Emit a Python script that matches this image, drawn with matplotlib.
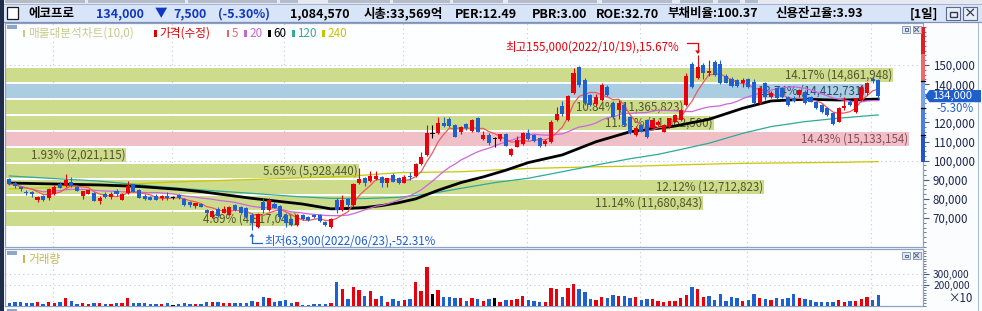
import numpy as np
import pandas as pd
import matplotlib
matplotlib.use("Agg")
import matplotlib.pyplot as plt
from matplotlib.patches import Rectangle, Polygon
from matplotlib.lines import Line2D

# ---------------- data (prices in thousand won) ----------------
open_k = [90.4,88.1,86.2,83.8,83.4,79.3,81.3,80.3,82.7,87.6,
86.8,89.0,86.2,81.5,82.7,83.1,78.9,82.4,81.0,84.1,
79.6,83.1,87.6,84.7,81.7,81.2,81.7,80.3,81.2,80.8,
82.0,79.8,78.4,76.3,77.3,74.2,70.3,74.5,72.8,71.7,
76.8,75.6,75.0,71.6,65.1,78.5,74.2,77.5,76.3,71.6,
69.3,66.4,71.6,70.3,71.6,71.6,68.1,65.5,79.4,74.2,
79.7,76.8,88.1,90.7,89.5,90.4,91.6,88.5,92.5,90.7,
88.5,92.0,92.0,98.2,103.0,114.3,114.6,119.5,121.6,118.6,
115.2,119.0,115.7,122.1,111.3,113.4,111.7,111.3,113.7,103.0,
107.3,108.5,114.6,113.4,111.7,108.5,109.6,121.2,128.5,121.2,
135.2,149.1,142.2,134.3,129.5,131.7,138.7,130.0,126.5,129.1,
123.0,113.4,118.6,121.2,116.9,118.6,115.2,117.8,120.4,121.2,
129.1,150.4,143.4,150.0,145.7,151.8,150.5,144.3,142.5,142.2,
140.4,142.5,141.3,130.0,140.4,133.5,137.8,137.8,133.5,133.0,
134.3,136.1,133.5,130.9,129.1,127.4,124.7,120.4,127.4,130.9,
125.6,131.7,135.2,142.5,142.2]

high_k = [90.8,89.5,86.2,84.6,84.1,81.7,82.0,85.9,87.3,89.0,
93.0,91.5,86.9,84.1,84.7,83.5,81.7,83.4,83.8,85.2,
83.1,89.4,88.0,85.0,82.4,81.7,82.4,82.0,83.4,81.7,
82.4,80.3,79.1,78.0,77.7,74.9,74.2,75.9,76.3,76.3,
77.3,76.3,75.9,72.4,72.4,80.3,80.3,78.5,77.0,72.5,
70.0,72.0,72.0,71.0,72.1,72.0,68.5,70.0,80.3,82.0,
80.5,88.5,96.0,91.6,94.6,94.6,92.1,90.9,93.4,91.2,
92.5,94.2,99.0,104.7,118.6,118.6,123.0,122.6,122.6,119.0,
118.1,119.5,121.6,122.6,115.7,114.6,112.5,113.9,114.3,106.5,
112.9,115.1,116.5,114.0,112.2,111.5,121.2,128.2,131.0,134.5,
148.6,149.7,143.0,135.0,135.0,140.4,139.5,131.0,131.5,130.0,
123.5,118.0,119.0,121.8,122.0,121.0,119.0,122.5,124.5,127.0,
145.7,151.5,155.0,150.9,152.6,152.6,152.6,145.3,143.5,142.8,
143.0,143.3,142.5,138.5,141.3,136.5,138.5,138.3,134.0,134.0,
137.5,137.0,134.0,131.3,129.6,128.0,125.6,128.0,133.5,131.7,
133.0,139.5,141.0,143.5,142.6]

low_k = [87.3,85.9,84.1,82.0,81.2,78.6,78.9,79.6,82.0,85.5,
86.4,86.2,84.1,80.1,82.5,78.9,77.3,80.3,80.1,81.7,
79.3,82.4,83.4,80.3,79.3,79.3,79.3,79.6,79.6,80.0,
80.0,76.3,75.9,75.2,75.6,72.1,69.8,70.3,72.4,71.4,
73.5,72.4,70.0,63.9,64.6,72.4,73.8,75.0,69.5,65.5,
66.0,66.0,68.8,68.5,70.0,68.0,66.0,65.0,72.5,73.5,
76.0,76.0,87.8,86.7,89.0,89.9,86.0,86.4,88.8,87.6,
88.1,89.9,91.5,97.7,102.4,111.7,114.0,117.4,117.4,112.5,
113.9,116.0,115.2,114.8,111.0,108.2,107.0,110.2,107.5,102.4,
107.0,108.0,110.8,110.0,107.3,107.5,109.0,120.8,123.5,120.5,
134.7,138.7,129.0,128.4,128.5,131.0,133.8,122.5,122.0,118.0,
113.8,113.0,114.8,112.0,116.5,118.0,114.8,117.3,120.0,120.8,
128.8,138.2,142.5,142.5,144.3,144.0,140.0,140.5,138.5,138.5,
138.3,138.0,129.6,129.5,131.7,133.0,132.0,133.0,128.5,130.5,
133.5,129.5,130.5,126.8,125.0,123.3,118.6,120.0,126.5,128.5,
125.0,131.0,134.5,140.5,132.0]

close_k = [87.8,86.8,85.2,83.3,82.4,81.0,79.4,85.2,86.2,85.9,
89.9,86.9,84.3,84.1,84.7,79.1,80.6,81.0,82.7,82.4,
82.7,86.6,83.8,80.6,80.0,79.6,79.6,81.5,80.8,80.8,
80.3,76.8,76.6,78.0,75.9,72.4,73.7,71.0,74.9,75.9,
74.2,72.8,70.3,67.2,72.1,74.2,79.4,75.5,70.3,67.2,
66.4,71.6,69.3,69.0,70.3,68.6,66.4,69.3,74.2,79.4,
76.8,88.0,90.2,88.1,92.0,92.0,88.5,90.7,89.0,88.1,
91.6,91.3,98.2,102.1,114.6,114.3,119.9,118.1,118.1,112.5,
117.8,116.9,121.2,115.2,113.4,109.1,111.7,113.7,107.8,106.1,
110.8,114.5,111.3,110.5,107.8,110.3,120.4,124.2,124.5,134.0,
145.7,139.6,130.0,129.1,133.5,139.6,134.3,123.0,130.0,118.6,
114.3,116.9,115.2,112.5,121.2,120.4,118.6,122.1,123.9,126.5,
144.4,138.7,149.1,145.7,147.0,144.8,140.4,140.8,139.0,139.0,
142.2,138.3,130.0,137.8,133.5,135.6,132.6,133.5,129.1,131.0,
136.9,130.0,130.9,127.4,125.6,123.9,119.2,127.4,128.5,129.1,
132.6,138.7,140.4,141.5,134.0]

# volume (displayed units, x10 shares)
volume = [22600, 35400, 35400, 25800, 25800, 35400, 19400, 35400, 25800, 35400,
73600, 44900, 19400, 25800, 19400, 25800, 25800, 19400, 19400, 25800,
25800, 73600, 25800, 25800, 25800, 16200, 16200, 16200, 25800, 6700,
16200, 25800, 16200, 16200, 19400, 35400, 35400, 35400, 25800, 25800,
25800, 25800, 25800, 44900, 35400, 83100, 73600, 35400, 41700, 54500,
25800, 35400, 9900, 6700, 13100, 13100, 16200, 25800, 226400, 159600,
64000, 178700, 150000, 92700, 140500, 64000, 92700, 35400, 64000, 44900,
54500, 64000, 226400, 140500, 369900, 111800, 150000, 83100, 83100, 73600,
73600, 44900, 73600, 64000, 44900, 64000, 73600, 35400, 54500, 54500,
64000, 92700, 54500, 44900, 35400, 35400, 169100, 159600, 83100, 169100,
207300, 159600, 130900, 64000, 54500, 83100, 73600, 102200, 92700, 92700,
73600, 83100, 54500, 64000, 64000, 44900, 35400, 44900, 44900, 73600,
102200, 178700, 159600, 83100, 92700, 54500, 111800, 44900, 83100, 73600,
44900, 54500, 111800, 73600, 64000, 54500, 73600, 64000, 73600, 111800,
73600, 64000, 54500, 35400, 35400, 35400, 35400, 54500, 35400, 44900,
44900, 64000, 83100, 54500, 102200]

vol_dir = [-1,-1,-1,-1,-1,1,-1,1,1,-1,
1,-1,-1,1,1,-1,1,-1,1,-1,
1,1,-1,-1,-1,-1,-1,1,-1,0,
-1,-1,-1,1,-1,-1,1,-1,1,1,
-1,-1,-1,-1,1,-1,1,-1,-1,-1,
-1,1,-1,-1,-1,-1,-1,1,-1,1,
-1,1,1,-1,1,1,-1,1,-1,-1,
1,-1,1,1,1,0,1,-1,-1,-1,
1,-1,1,-1,1,-1,0,1,-1,1,
1,1,-1,-1,-1,1,1,1,-1,1,
1,-1,-1,-1,1,1,-1,-1,1,-1,
-1,1,-1,-1,1,1,1,1,1,1,
1,-1,1,1,-1,-1,-1,-1,-1,-1,
1,-1,-1,1,-1,1,-1,-1,-1,-1,
1,-1,-1,-1,-1,-1,-1,1,1,-1,
1,1,1,-1,-1]

# long moving averages (index, thousand won)
ma60_idx = [0, 16, 23, 30, 34, 43, 52, 57, 60, 63, 66, 69, 72, 76, 80, 84, 88, 92, 98, 104, 110, 115, 118, 124, 130, 135, 141, 147, 154]
ma60_val = [88.3, 87.3, 86.5, 85.0, 83.8, 80.3, 77.3, 74.8, 75.0, 75.5, 76.5, 78.0, 80.0, 84.5, 88.5, 91.5, 95.0, 99.0, 103.0, 109.9, 115.1, 116.9, 118.1, 121.6, 127.4, 131.2, 132.1, 131.7, 132.2]
ma120_idx = [0, 7, 16, 25, 34, 43, 51, 57, 63, 69, 75, 80, 86, 92, 98, 104, 110, 115, 118, 124, 130, 135, 141, 147, 154]
ma120_val = [92.0, 90.8, 89.3, 86.8, 84.7, 82.9, 81.2, 80.3, 80.2, 80.8, 82.9, 85.5, 88.5, 90.8, 94.2, 97.7, 101.0, 103.3, 105.2, 109.1, 114.3, 117.8, 120.4, 122.2, 123.9]
ma240_idx = [0, 10, 20, 28, 40, 50, 60, 69, 80, 86, 92, 104, 112, 120, 130, 147, 154]
ma240_val = [85.2, 86.2, 87.5, 88.7, 89.9, 90.8, 91.8, 93.7, 94.2, 95.1, 95.9, 96.8, 97.2, 97.9, 98.6, 99.1, 99.5]

# volume profile (매물대) bands, bottom to top
band_pct = [4.69, 11.14, 12.12, 5.65, 1.93, 14.43, 11.31, 10.84, 13.74, 14.17]
band_vol = [4917041, 11680843, 12712823, 5928440, 2021115, 15133154, 11862500, 11365823, 14412731, 14861948]
band_bottom = [66000, 74366, 82732, 91098, 99464, 107830, 116196, 124562, 132928, 141294]
band_height = 7000

month_start_idx = [8, 29, 49, 70, 92, 112, 131, 153]
price_ticks = [70000, 80000, 90000, 100000, 110000, 120000, 140000, 150000]
grid_prices = [100000, 150000]
vol_ticks = [200000, 300000]

high_text = "최고155,000(2022/10/19),15.67%"
low_text = "최저63,900(2022/06/23),-52.31%"
last_price = 134000
prev_close = 141500
change_text = "-5.30%"

header_items = [
    (28, "에코프로", "#000000"),
    (96, "134,000", "#1038c0"),
    (155, "▼", "#1038c0"),
    (173, "7,500", "#1038c0"),
    (218, "(-5.30%)", "#1038c0"),
    (290, "1,084,570", "#000000"),
    (364, "시총:33,569억", "#000000"),
    (455, "PER:12.49", "#000000"),
    (532, "PBR:3.00", "#000000"),
    (596, "ROE:32.70", "#000000"),
    (667, "부채비율:100.37", "#000000"),
    (776, "신용잔고율:3.93", "#000000"),
    (910, "[1일]", "#000000"),
]
legend_items = [
    (22.5, "매물대분석차트(10,0)", "#c6ca8c"),
    (154, "가격(수정)", "#e00000"),
    (226.5, "5", "#e06a6a"),
    (244, "20", "#c866cc"),
    (268, "60", "#000000"),
    (292, "120", "#33aa99"),
    (322, "240", "#c8c400"),
]

# ---------------- figure ----------------
KF = ['Noto Sans CJK KR', 'DejaVu Sans']
plt.rcParams['font.family'] = KF
W, H = 982, 311
fig = plt.figure(figsize=(W / 100, H / 100), dpi=100)
fig.patch.set_facecolor('#fbfcfe')

RED = '#e8000b'
BLUE = '#1e60d0'
GREEN_BAND = '#cddc8c'
BLUE_BAND = '#aacde1'
PINK_BAND = '#f0c0c8'
FRAME = '#8ea2c4'


def pr(x0, y0, x1, y1, fc, ec='none', lw=0, z=0):
    fig.add_artist(Rectangle((x0 / W, 1 - y1 / H), (x1 - x0) / W, (y1 - y0) / H,
                             transform=fig.transFigure, facecolor=fc, edgecolor=ec,
                             linewidth=lw, zorder=z))


def pl(xs, ys, color, lw=1.0, z=5, **kw):
    fig.add_artist(Line2D([x / W for x in xs], [1 - y / H for y in ys],
                          transform=fig.transFigure, color=color, linewidth=lw, zorder=z, **kw))


def pt(x, y, s, **kw):
    fig.text(x / W, 1 - y / H, s, **kw)


# header
pr(0, 0, W, 3.5, '#e6eaf0')
for a, b in [(5, 85), (88, 185), (188, 277), (280, 298), (328, 390), (393, 450), (453, 503),
             (508, 597), (602, 672), (680, 713), (718, 740), (745, 758)]:
    pr(a, 0, b, 2.5, '#b4bccb')
pr(0, 3.5, W, 22, '#d8e4f7')
pl([0, W], [22.3, 22.3], '#7e92b8', lw=0.9)
pl([0, W], [3.6, 3.6], '#9aaac8', lw=0.6)
pr(0, 0, 3.5, H, '#1f2d4a', z=10)
pr(6.5, 7, 18, 19, '#ffffff', ec='#1a1a1a', lw=0.9, z=3)
for x, s, c in header_items:
    pt(x, 14, s, color=c, fontsize=9, fontweight='bold', va='center', ha='left', family=KF)
for bx in (946, 963):
    pr(bx, 7.5, bx + 14, 20, '#e8eef8', ec='#5a6a8a', lw=0.8, z=3)
pr(949.5, 11.5, 956.5, 16.5, 'none', ec='#303a50', lw=1.0, z=4)
pt(970, 13.8, "×", color='#303a50', fontsize=9, fontweight='bold', ha='center', va='center', family=KF)

# axes
L, R = 5, 922.5
MT, MB = 23, 247
VT, VB = 248.5, 306
ax = fig.add_axes([L / W, 1 - MB / H, (R - L) / W, (MB - MT) / H])
vax = fig.add_axes([L / W, 1 - VB / H, (R - L) / W, (VB - VT) / H])
for a in (ax, vax):
    a.set_facecolor('#fdfeff')
    a.set_xlim(-0.762, 161.85)
    for sp in a.spines.values():
        sp.set_color(FRAME)
        sp.set_linewidth(0.9)
    a.set_xticks([])
ax.set_ylim(54850, 171970)
vax.set_ylim(-2865, 546300)

opens = np.array(open_k) * 1000
highs = np.array(high_k) * 1000
lows = np.array(low_k) * 1000
closes = np.array(close_k) * 1000
idx = np.arange(len(closes))

# grids
for m in month_start_idx:
    for a in (ax, vax):
        a.axvline(m - 0.25, color='#c2cad6', lw=0.8, linestyle=(0, (1, 3)), zorder=0.5)
for gp in grid_prices:
    ax.axhline(gp, color='#c2cad6', lw=0.8, linestyle=(0, (1, 3)), zorder=0.5)
for vt in vol_ticks:
    vax.axhline(vt, color='#c2cad6', lw=0.8, linestyle=(0, (1, 3)), zorder=0.5)

# volume-profile bands
x0, x1 = ax.get_xlim()
span = x1 - x0
maxpct = max(band_pct)
kmax = int(np.argmax(band_pct))
step = band_bottom[1] - band_bottom[0]
for k in range(len(band_pct)):
    lo = band_bottom[k]
    if k == kmax:
        fc, tc = PINK_BAND, '#8c4c56'
    elif lo <= last_price < lo + step:
        fc, tc = BLUE_BAND, '#2c4a6c'
    else:
        fc, tc = GREEN_BAND, '#54542a'
    w = band_pct[k] / maxpct * 0.9853 * span
    ax.add_patch(Rectangle((x0, lo), w, band_height, facecolor=fc, lw=0, zorder=1))
    ax.text(x0 + w - 0.15, lo + band_height / 2, f"{band_pct[k]:.2f}% ({band_vol[k]:,})",
            ha='right', va='center', fontsize=8.3, color=tc, zorder=2, family=KF)

# moving averages
cs = pd.Series(closes)
ma5 = cs.rolling(5, min_periods=1).mean()
ma20 = cs.rolling(20, min_periods=1).mean()
ax.plot(np.array(ma240_idx), np.array(ma240_val) * 1000, color='#c8c800', lw=0.9, zorder=3)
ax.plot(np.array(ma120_idx), np.array(ma120_val) * 1000, color='#2eaa98', lw=0.9, zorder=3)
ax.plot(np.array(ma60_idx), np.array(ma60_val) * 1000, color='#000000', lw=2.0, zorder=3.2)
ax.plot(idx, ma20, color='#cc66dd', lw=0.9, zorder=3.3)
ax.plot(idx, ma5, color='#ee5a5a', lw=0.9, zorder=3.4)

# candles
cols = np.where(closes > opens, RED, np.where(closes < opens, BLUE, '#000000'))
ax.vlines(idx, lows, highs, colors=cols, lw=0.8, zorder=4)
bh = np.abs(closes - opens)
bb = np.minimum(opens, closes)
bh_draw = np.maximum(bh, 550)
ax.bar(idx, bh_draw, bottom=bb - (bh_draw - bh) / 2, width=0.72, color=cols, lw=0, zorder=4.1)

# volume bars
vcols = [RED if d > 0 else (BLUE if d < 0 else '#000000') for d in vol_dir]
vax.bar(idx, volume, width=0.6, color=vcols, lw=0, zorder=3)

# y axes (right)
for a in (ax, vax):
    a.yaxis.tick_right()
ax.set_yticks(price_ticks)
ax.set_yticklabels([f"{t:,}" for t in price_ticks])
ax.set_yticks(np.arange(55000, 172000, 2500), minor=True)
vax.set_yticks(vol_ticks)
vax.set_yticklabels([f"{t:,}" for t in vol_ticks])
vax.set_yticks(np.arange(0, 546000, 25000), minor=True)
ax.tick_params(axis='y', which='major', direction='out', length=4, width=0.8,
               color='#4a5a80', pad=3.4, labelsize=8.3, labelcolor='#1c2650')
vax.tick_params(axis='y', which='major', direction='out', length=4, width=0.8,
                color='#4a5a80', pad=3.6, labelsize=7.3, labelcolor='#1c2650')
for a in (ax, vax):
    a.tick_params(axis='y', which='minor', direction='out', length=2, width=0.7, color='#6a7aa0')
    for lab in a.get_yticklabels():
        lab.set_family(KF)

fig.canvas.draw()


def to_px_y(a, v):
    return H - a.transData.transform((0, v))[1]


def to_px_x(a, i):
    return a.transData.transform((i, 0))[0]


# price-limit colour bar at the axis
lim_levels = [prev_close * (1 + k * 0.1) for k in (-3, -2, -1, 0, 1, 2)]
lim_cols = ['#2256c8', '#4a80e0', '#7aa2ea', '#ee6a6a', '#e02020']
for k in range(5):
    ya = to_px_y(ax, lim_levels[k + 1])
    yb = to_px_y(ax, lim_levels[k])
    ya = max(ya, MT)
    if yb > MT:
        pr(921, ya, 924.5, yb, lim_cols[k], z=6)
for lv in lim_levels[1:4]:
    yy = to_px_y(ax, lv)
    pl([921, 925], [yy, yy], '#000000', lw=0.9, z=7)

# last price box
yl = to_px_y(ax, last_price)
ytop, ybot = yl - 5.6, yl + 6.6
fig.add_artist(Polygon([(925 / W, 1 - (ytop + ybot) / 2 / H), (929.5 / W, 1 - ytop / H), (981 / W, 1 - ytop / H),
                        (981 / W, 1 - ybot / H), (929.5 / W, 1 - ybot / H)],
                       closed=True, transform=fig.transFigure, facecolor='#1f5fcc', edgecolor='none', zorder=8))
pt(952.5, (ytop + ybot) / 2, f"{last_price:,}", color='#ffffff', fontsize=8.0, ha='center', va='center', zorder=9, family=KF)
pr(929, ybot + 0.8, 977, ybot + 11, '#ffffff', z=8)
pt(973.5, ybot + 6.2, change_text, color='#1f5fd0', fontsize=8.3, ha='right', va='center', zorder=9, family=KF)
pt(973.5, 298, "×10", color='#1c2650', fontsize=8.3, ha='right', va='center', family=KF)

# highest / lowest annotations
ihi = int(np.argmax(highs))
ilo = int(np.argmin(lows))
xh = to_px_x(ax, ihi)
yh = to_px_y(ax, highs[ihi])
pt(xh - 192, yh - 8.5, high_text, color='#e8000b', fontsize=8.3, ha='left', va='center', zorder=9, family=KF)
pl([xh - 11, xh, xh], [yh - 12, yh - 12, yh - 3.5], '#e8000b', lw=0.9, z=9)
fig.add_artist(Polygon([(xh / W, 1 - (yh - 1.5) / H), ((xh - 2.5) / W, 1 - (yh - 5) / H), ((xh + 2.5) / W, 1 - (yh - 5) / H)],
                       closed=True, transform=fig.transFigure, facecolor='#e8000b', edgecolor='none', zorder=9))
xl = to_px_x(ax, ilo)
ylo = to_px_y(ax, lows[ilo])
pl([xl, xl, xl + 10], [ylo + 6, ylo + 13.5, ylo + 13.5], '#1f5fd0', lw=0.9, z=9)
fig.add_artist(Polygon([(xl / W, 1 - (ylo + 3.5) / H), ((xl - 2.5) / W, 1 - (ylo + 7) / H), ((xl + 2.5) / W, 1 - (ylo + 7) / H)],
                       closed=True, transform=fig.transFigure, facecolor='#1f5fd0', edgecolor='none', zorder=9))
pt(xl + 12, ylo + 11, low_text, color='#1f5fd0', fontsize=8.3, ha='left', va='center', zorder=9, family=KF)

# legends
pr(7, 25, 16.5, 28.5, '#8ea6c8', z=6)
for x, s, c in legend_items:
    pr(x, 30, x + 2.5, 36.5, c, z=6)
    pt(x + 5.5, 33.2, s, color=c, fontsize=8.4, ha='left', va='center', zorder=6, family=KF)
pr(7, 251, 16.5, 254.5, '#8ea6c8', z=6)
pr(22.5, 255, 25, 263, '#c8b84a', z=6)
pt(28, 259, "거래량", color='#c8b84a', fontsize=8.4, ha='left', va='center', zorder=6, family=KF)
pr(7, 309, 16.5, 311, '#8ea6c8', z=6)

# small panel buttons
for yy in (26, 252):
    pr(902, yy, 910, yy + 7, '#dfe6f0', ec='#8c9cb8', lw=0.7, z=7)
    pr(912.5, yy, 920.5, yy + 7, '#dfe6f0', ec='#8c9cb8', lw=0.7, z=7)
    pr(904.5, yy + 2.5, 907.5, yy + 4.5, 'none', ec='#5a6a8a', lw=0.7, z=8)
    pl([914.5, 918.5], [yy + 1.5, yy + 5.5], '#5a6a8a', lw=0.8, z=8)
    pl([914.5, 918.5], [yy + 5.5, yy + 1.5], '#5a6a8a', lw=0.8, z=8)

pl([977.5, 977.5], [22.5, H], '#b0bed4', lw=0.8, z=7)

fig.savefig("out.png", dpi=100, facecolor=fig.get_facecolor())
